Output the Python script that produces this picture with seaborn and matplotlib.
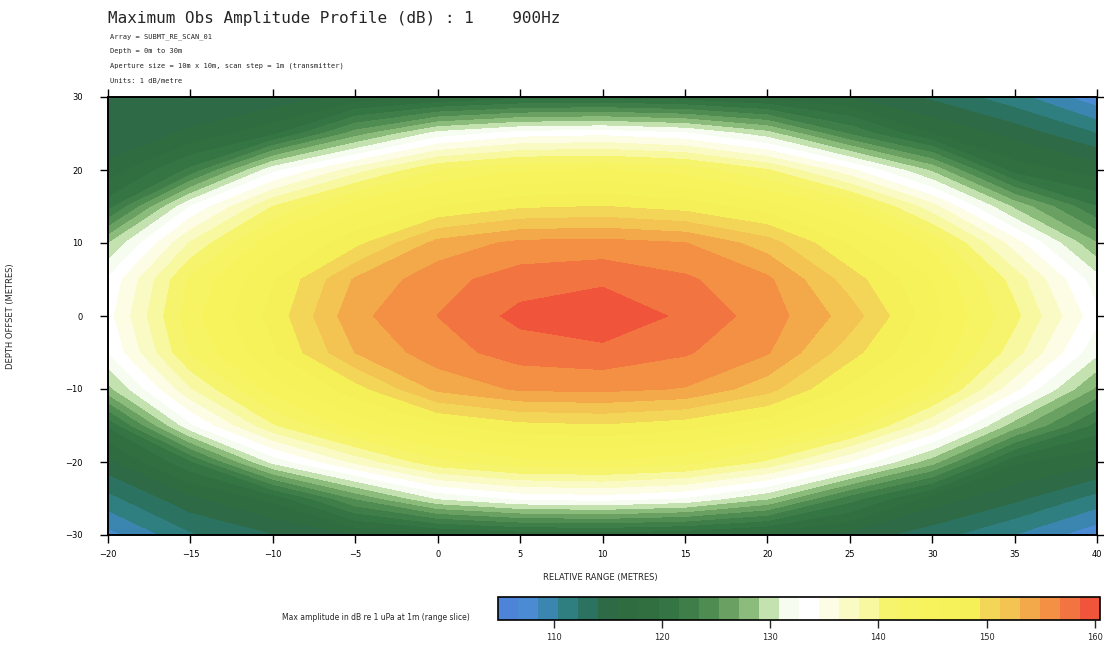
import numpy as np
import matplotlib
matplotlib.use("Agg")
import matplotlib.pyplot as plt
import seaborn as sns

# ---------------- data ----------------
x_range_m = [-20, -15, -10, -5, 0, 5, 10, 15, 20, 25, 30, 35, 40]
y_offset_m = [30, 25, 20, 15, 10, 5, 0, -5, -10, -15, -20, -25, -30]

row_p30 = [115.5, 114.0, 114.6, 116.4, 117.6, 118.7, 119.0, 118.4, 117.2, 115.8, 113.7, 111.0, 107.2]
row_p25 = [114.3, 116.3, 119.1, 126.1, 131.5, 133.5, 133.9, 132.9, 129.7, 123.1, 117.7, 115.2, 112.2]
row_p20 = [116.6, 121.9, 132.0, 137.3, 141.9, 143.6, 143.9, 143.0, 140.2, 135.0, 128.5, 118.7, 116.9]
row_p15 = [120.6, 132.7, 140.1, 144.9, 147.4, 149.0, 149.4, 148.5, 146.6, 143.5, 137.1, 128.5, 121.5]
row_p10 = [128.8, 138.4, 145.0, 148.7, 153.7, 155.4, 155.6, 155.0, 152.1, 147.3, 143.2, 135.4, 127.1]
row_p05 = [132.9, 142.3, 147.3, 153.3, 156.1, 157.7, 158.2, 157.1, 155.3, 150.3, 145.6, 139.3, 131.5]
row_000 = [133.8, 143.1, 148.1, 154.4, 156.8, 159.2, 160.3, 158.2, 155.9, 152.2, 146.3, 140.6, 133.2]
row_m05 = [132.6, 142.1, 147.2, 153.1, 156.0, 157.6, 158.0, 157.0, 155.1, 150.1, 145.4, 139.0, 131.2]
row_m10 = [128.3, 138.0, 144.7, 148.5, 153.5, 155.2, 155.4, 154.8, 151.9, 147.0, 142.9, 135.0, 126.6]
row_m15 = [119.8, 132.2, 139.8, 144.6, 147.1, 148.7, 149.1, 148.2, 146.3, 143.1, 136.6, 127.9, 120.8]
row_m20 = [115.3, 121.1, 131.3, 136.8, 141.4, 143.2, 143.5, 142.6, 139.7, 134.4, 127.8, 118.0, 116.2]
row_m25 = [111.6, 115.4, 118.3, 125.3, 130.9, 133.0, 133.4, 132.4, 129.1, 122.3, 116.9, 114.5, 111.5]
row_m30 = [107.8, 111.9, 113.9, 115.8, 117.0, 118.1, 118.4, 117.8, 116.6, 115.1, 113.0, 110.3, 107.2]

cbar_ticks = [110, 120, 130, 140, 150, 160]
y_ticks = [30, 20, 10, 0, -10, -20, -30]

band_colors = [
    "#4d84d8", "#4b8bd4", "#3a86b0", "#2f7f80", "#2c7260",
    "#2e6a45", "#2f6c40", "#316e40", "#357443", "#3f7e48",
    "#4f8c52", "#6aa062", "#8cbc7c", "#c4e2b0", "#f6fcf0",
    "#ffffff", "#fdfde6", "#fafac4", "#f8f8a0", "#f6f46c",
    "#f6f462", "#f6f35c", "#f6f25a", "#f5ef58", "#f3d658",
    "#f3c452", "#f3a84a", "#f39044", "#f27440", "#f0543a",
]

# ---------------- figure ----------------
sns.set_theme(style="white")
plt.rcParams["font.family"] = ["DejaVu Sans"]

Z = np.array([row_p30, row_p25, row_p20, row_p15, row_p10, row_p05, row_000,
              row_m05, row_m10, row_m15, row_m20, row_m25, row_m30])
X, Y = np.meshgrid(x_range_m, y_offset_m)

fig = plt.figure(figsize=(11.04, 6.53), dpi=100)
ax = fig.add_axes([108 / 1104, 1 - 535 / 653, 989 / 1104, 438 / 653])

levels = np.linspace(104.8, 160.5, 31)
cs = ax.contourf(X, Y, Z, levels=levels, colors=band_colors)

ax.set_xlim(-20, 40)
ax.set_ylim(-30, 30)
ax.set_xticks(x_range_m)
ax.set_yticks(y_ticks)
ax.tick_params(axis="both", which="both", direction="out", length=6, width=1,
               colors="black", labelsize=6, top=True, right=True,
               labeltop=False, labelright=False, bottom=True, left=True)
ax.tick_params(axis="y", pad=12)
ax.tick_params(axis="x", pad=5)
for s in ax.spines.values():
    s.set_visible(True)
    s.set_color("black")
    s.set_linewidth(1.4)
ax.set_xlabel("RELATIVE RANGE (METRES)", fontsize=6)
ax.xaxis.set_label_coords((600 - 108) / 989, -(573 - 535) / 438)
ax.set_ylabel("DEPTH OFFSET (METRES)", fontsize=6)
ax.yaxis.set_label_coords(-(108 - 15) / 989, 0.5)

mono = ["DejaVu Sans Mono"]
fig.text(108 / 1104, 1 - 18 / 653, "Maximum Obs Amplitude Profile (dB) : 1    900Hz",
         fontsize=11.5, family=mono, va="center", ha="left")
subs = ["Array = SUBMT_RE_SCAN_01",
        "Depth = 0m to 30m",
        "Aperture size = 10m x 10m, scan step = 1m (transmitter)",
        "Units: 1 dB/metre"]
for i, s in enumerate(subs):
    fig.text(110 / 1104, 1 - (37 + i * 14.5) / 653, s, fontsize=5, family=mono,
             va="center", ha="left")

cax = fig.add_axes([498 / 1104, 1 - 620 / 653, 602 / 1104, 23 / 653])
cb = fig.colorbar(cs, cax=cax, orientation="horizontal", ticks=cbar_ticks)
cb.outline.set_linewidth(1.2)
cb.outline.set_edgecolor("black")
cax.tick_params(direction="out", length=6, width=1, labelsize=6, bottom=True)
fig.text(470 / 1104, 1 - 617 / 653, "Max amplitude in dB re 1 uPa at 1m (range slice)",
         fontsize=5.5, ha="right", va="center")

fig.savefig("out.png", dpi=100)
